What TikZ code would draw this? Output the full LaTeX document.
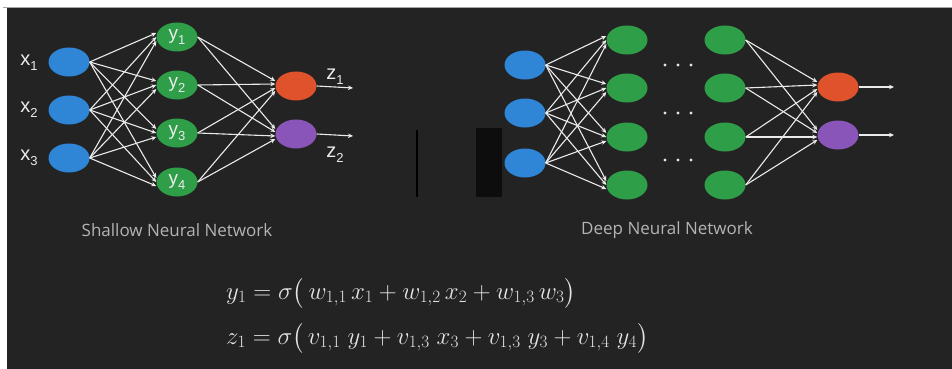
\documentclass[tikz,border=0pt]{standalone}
\usepackage{amsmath}
\usepackage{fontspec}
\setsansfont{Open Sans}
\newfontfamily\labfont{Liberation Sans}
\usetikzlibrary{arrows.meta,shapes.geometric}
\definecolor{bg}{HTML}{232323}
\definecolor{nblue}{HTML}{2F86D6}
\definecolor{ngreen}{HTML}{2F9E48}
\definecolor{norange}{HTML}{E0522B}
\definecolor{npurple}{HTML}{8A55B8}
\definecolor{captxt}{HTML}{B4B4B4}
\definecolor{eqtxt}{HTML}{E4E4E4}
\newcommand\lsub[2]{#1\raisebox{-0.45ex}{\fontsize{13}{13}\selectfont #2}}
\tikzset{
  neuron/.style={ellipse, inner sep=0pt, minimum width=41pt, minimum height=29pt},
  inb/.style={neuron, fill=nblue},
  hid/.style={neuron, fill=ngreen, text=white!92!black, font=\labfont\fontsize{19}{19}\selectfont},
  outo/.style={neuron, fill=norange},
  outp/.style={neuron, fill=npurple},
  arr/.style={draw=white!92!black, line width=1.1pt, -{Stealth[length=5pt,width=4.5pt]}},
  lab/.style={text=white!92!black, font=\labfont\fontsize{20}{20}\selectfont, inner sep=0pt},
  captext/.style={text=captxt, font=\sffamily\fontsize{17}{20}\selectfont},
  eq/.style={text=eqtxt, font=\fontsize{26}{30}\selectfont, anchor=west, inner sep=0pt},
  dot/.style={circle, fill=white!90!black, inner sep=0pt, minimum size=3.2pt}
}
\begin{document}
\begin{tikzpicture}[x=1pt,y=-1pt]
\useasboundingbox (0,0) rectangle (952,369);
\fill[white] (0,0) rectangle (952,369);
\fill[bg] (7,8) rectangle (952,369);
\draw[gray!70, line width=1pt] (3,7.5) -- (952,7.5);

% ---------- shallow network ----------
\node[inb] (sx1) at (69,62) {};
\node[inb] (sx2) at (69,110) {};
\node[inb] (sx3) at (69,158) {};
\node[lab] (lx1) at (29,63) {\lsub{x}{1}};
\node[lab] (lx2) at (29,110) {\lsub{x}{2}};
\node[lab] (lx3) at (29,158) {\lsub{x}{3}};

\node[hid] (sy1) at (177,37) {\lsub{y}{1}};
\node[hid] (sy2) at (177,85) {\lsub{y}{2}};
\node[hid] (sy3) at (177,133) {\lsub{y}{3}};
\node[hid] (sy4) at (177,182) {\lsub{y}{4}};

\node[outo] (sz1) at (296,86) {};
\node[outp] (sz2) at (296,134) {};

\foreach \i/\d in {1/4,2/0,3/-4}
  \foreach \j in {1,...,4}
    \draw[arr] (sx\i.east) -- ([yshift=\d pt]sy\j.west);
\foreach \j/\d in {1/5,2/2,3/-2,4/-5}
  \foreach \k in {1,2}
    \draw[arr] (sy\j.east) -- ([yshift=\d pt]sz\k.west);

\coordinate (so1) at (353,88);
\coordinate (so2) at (353,136);
\draw[arr] (sz1.east) -- (so1);
\draw[arr] (sz2.east) -- (so2);
\node[lab] (lz1) at (335,77) {\lsub{z}{1}};
\node[lab] (lz2) at (335,155) {\lsub{z}{2}};

\node[captext] (cap1) at (177,230) {Shallow Neural Network};

% ---------- separators ----------
\draw[black, line width=1.6pt] (417,130) -- (417,197);
\fill[black!95!white] (476,128) rectangle (502,197);

% ---------- deep network ----------
\node[inb] (dx1) at (525,65) {};
\node[inb] (dx2) at (525,113) {};
\node[inb] (dx3) at (525,163) {};

\foreach \j/\yy in {1/40,2/88,3/137,4/185}{
  \node[hid] (da\j) at (627,\yy) {};
  \node[hid] (db\j) at (725,\yy) {};
}
\node[outo] (dz1) at (838,87) {};
\node[outp] (dz2) at (838,135) {};

\foreach \i/\d in {1/4,2/0,3/-4}
  \foreach \j in {1,...,4}
    \draw[arr] (dx\i.east) -- ([yshift=\d pt]da\j.west);
\foreach \j/\d in {1/5,2/2,3/-2,4/-5}
  \foreach \k in {1,2}
    \draw[arr] (db\j.east) -- ([yshift=\d pt]dz\k.west);

\foreach \r/\yy in {1/65,2/113,3/160}
  \foreach \c/\xx in {1/665,2/678,3/691}
    \node[dot] (dd\r\c) at (\xx,\yy) {};

\coordinate (do1) at (894,87);
\coordinate (do2) at (894,135);
\draw[arr] (dz1.east) -- (do1);
\draw[arr] (dz2.east) -- (do2);

\node[captext] (cap2) at (667,230) {Deep Neural Network};

% ---------- equations ----------
\node[eq] (eq1) at (226,293) {$y_1 = \sigma\bigl(\,w_{1,1}\,x_1 + w_{1,2}\,x_2 + w_{1,3}\,w_3\bigr)$};
\node[eq] (eq2) at (226,338) {$z_1 = \sigma\bigl(\,v_{1,1}\;y_1 + v_{1,3}\;x_3 + v_{1,3}\;y_3 + v_{1,4}\;y_4\bigr)$};
\end{tikzpicture}
\end{document}
